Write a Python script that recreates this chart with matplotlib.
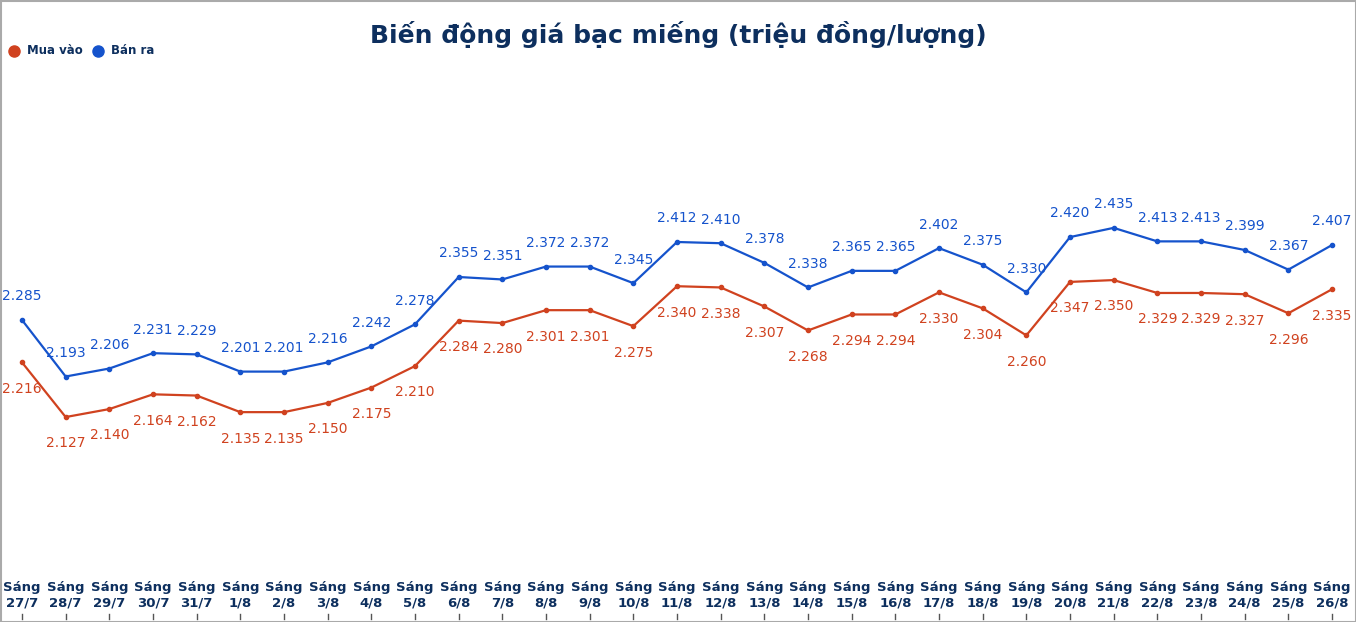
import matplotlib
matplotlib.use("Agg")
import matplotlib.pyplot as plt

dates = ["27/7","28/7","29/7","30/7","31/7","1/8","2/8","3/8","4/8","5/8","6/8","7/8","8/8","9/8","10/8",
         "11/8","12/8","13/8","14/8","15/8","16/8","17/8","18/8","19/8","20/8","21/8","22/8","23/8","24/8","25/8","26/8"]
mua_vao = [2.216,2.127,2.140,2.164,2.162,2.135,2.135,2.150,2.175,2.210,2.284,2.280,2.301,2.301,2.275,
           2.340,2.338,2.307,2.268,2.294,2.294,2.330,2.304,2.260,2.347,2.350,2.329,2.329,2.327,2.296,2.335]
ban_ra = [2.285,2.193,2.206,2.231,2.229,2.201,2.201,2.216,2.242,2.278,2.355,2.351,2.372,2.372,2.345,
          2.412,2.410,2.378,2.338,2.365,2.365,2.402,2.375,2.330,2.420,2.435,2.413,2.413,2.399,2.367,2.407]

RED = "#d0421f"; BLUE = "#1553cc"; NAVY = "#0d2f5e"
W, H = 1356, 622
fig = plt.figure(figsize=(W/100, H/100), dpi=100)
ax = fig.add_axes([22/W, 1-570/H, (1332-22)/W, 500/H])
x = list(range(len(dates)))
ax.set_xlim(0, len(dates)-1)
ax.set_ylim(1.878, 2.692)
ax.plot(x, mua_vao, color=RED, lw=1.6, marker="o", ms=3, clip_on=False)
ax.plot(x, ban_ra, color=BLUE, lw=1.6, marker="o", ms=3, clip_on=False)
for i in x:
    ax.annotate(f"{ban_ra[i]:.3f}", (i, ban_ra[i]), xytext=(0, 17), textcoords="offset points",
                ha="center", va="center", color=BLUE, fontsize=10)
    ax.annotate(f"{mua_vao[i]:.3f}", (i, mua_vao[i]), xytext=(0, -19), textcoords="offset points",
                ha="center", va="center", color=RED, fontsize=10)
for s in ax.spines.values():
    s.set_visible(False)
ax.set_yticks([])
ax.set_xticks(x)
ax.set_xticklabels([f"Sáng\n{d}" for d in dates], fontsize=9.5, fontweight="bold", color=NAVY, linespacing=1.2)
ax.tick_params(axis="x", length=0, pad=8)
for i in x:
    fig.lines.append(plt.Line2D([(22+i*(1310/30))/W]*2, [1-614/H, 1-619/H], color="#555555", lw=1, transform=fig.transFigure))
fig.text(0.5, 1-35/H, "Biến động giá bạc miếng (triệu đồng/lượng)", ha="center", va="center",
         fontsize=18, fontweight="bold", color=NAVY)
fig.lines.append(plt.Line2D([14/W], [1-51/H], marker="o", ms=8, color=RED, transform=fig.transFigure))
fig.text(27/W, 1-51/H, "Mua vào", va="center", fontsize=8.5, fontweight="bold", color=NAVY)
fig.lines.append(plt.Line2D([98/W], [1-51/H], marker="o", ms=8, color=BLUE, transform=fig.transFigure))
fig.text(111/W, 1-51/H, "Bán ra", va="center", fontsize=8.5, fontweight="bold", color=NAVY)
fig.patches.append(plt.Rectangle((0.5/W, 0.5/H), 1-1/W, 1-1/H, fill=False, ec="#aaaaaa", lw=1.5, transform=fig.transFigure))
fig.savefig("out.png", dpi=100)
